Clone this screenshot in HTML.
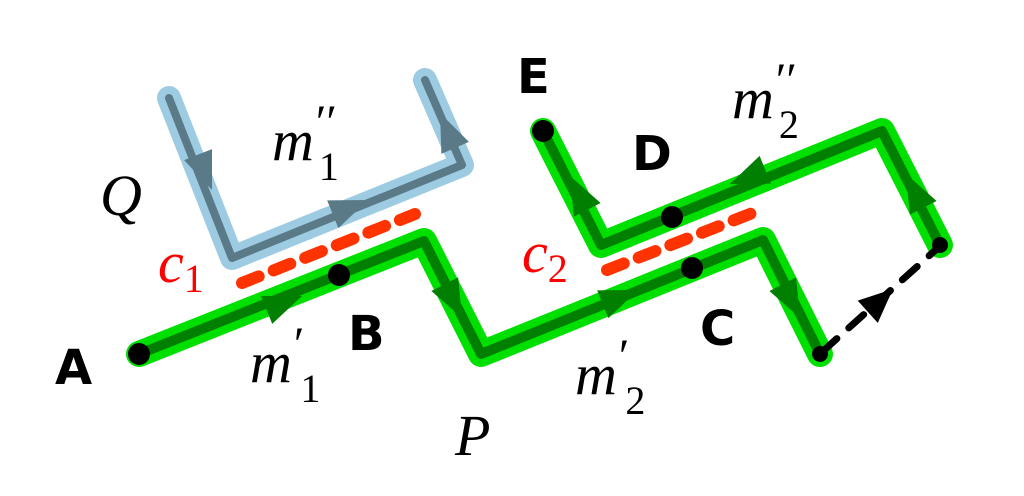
<!DOCTYPE html>
<html><head><style>body{margin:0;background:#fff}svg{display:block}
.b{font-family:"DejaVu Sans","Liberation Sans",sans-serif;font-weight:bold;font-size:48px}
.m{font-family:"Liberation Serif","DejaVu Serif",serif;font-style:italic;font-size:58px}
.s{font-family:"Liberation Serif","DejaVu Serif",serif;font-size:40px;font-style:normal}
.p{font-family:"Liberation Serif","DejaVu Serif",serif;font-style:normal;font-size:48px}
</style></head><body>
<svg width="1024" height="496" viewBox="0 0 1024 496" xmlns="http://www.w3.org/2000/svg">
<g fill="none" stroke-linecap="round" stroke-linejoin="round">
<polyline points="169,98 232,258 462,165 425,80" stroke="#9ccbe2" stroke-width="24"/>
<polyline points="169,98 232,258 462,165 425,80" stroke="#5a7a88" stroke-width="8"/>
<polyline points="139,354 424,241 481,354 763,240 820,354" stroke="#00e000" stroke-width="26"/>
<polyline points="543,131 601,245 882,131 940,245" stroke="#00e000" stroke-width="26"/>
<polyline points="139,354 424,241 481,354 763,240 820,354" stroke="#007f00" stroke-width="10"/>
<polyline points="543,131 601,245 882,131 940,245" stroke="#007f00" stroke-width="10"/>
<line x1="242" y1="283" x2="415" y2="214" stroke="#ff3300" stroke-width="12" stroke-dasharray="18,16"/>
<line x1="607" y1="270" x2="755" y2="212" stroke="#ff3300" stroke-width="12" stroke-dasharray="18,16"/>
<line x1="822" y1="352" x2="940" y2="246" stroke="#000" stroke-width="7" stroke-dasharray="20,16"/>
</g>
<g fill="#5a7a88">
<polygon transform="translate(212,190) rotate(68.5)" points="0,0 -38,-15 -38,15"/>
<polygon transform="translate(368,200) rotate(-22)" points="0,0 -38,-15 -38,15"/>
<polygon transform="translate(440,113) rotate(-113.5)" points="0,0 -38,-15 -38,15"/>
</g>
<g fill="#007f00">
<polygon transform="translate(302,296) rotate(-21.6)" points="0,0 -38,-15 -38,15"/>
<polygon transform="translate(462,318) rotate(63)" points="0,0 -38,-15 -38,15"/>
<polygon transform="translate(638,290) rotate(-22)" points="0,0 -38,-15 -38,15"/>
<polygon transform="translate(800,318) rotate(63)" points="0,0 -38,-15 -38,15"/>
<polygon transform="translate(570,176) rotate(-117)" points="0,0 -38,-15 -38,15"/>
<polygon transform="translate(730,184) rotate(158)" points="0,0 -38,-15 -38,15"/>
<polygon transform="translate(906,174) rotate(-117)" points="0,0 -38,-15 -38,15"/>
</g>
<polygon transform="translate(893,289) rotate(-42)" points="0,0 -34,-15 -34,15" fill="#000"/>
<g fill="#000">
<circle cx="139" cy="354" r="11"/><circle cx="339" cy="275" r="11"/>
<circle cx="672" cy="217" r="11"/><circle cx="692" cy="268" r="11"/>
<circle cx="543" cy="131" r="11"/><circle cx="820" cy="354" r="8"/><circle cx="940" cy="245" r="8"/>
</g>
<text class="b" x="55" y="384">A</text>
<text class="b" x="348" y="350">B</text>
<text class="b" x="700" y="345">C</text>
<text class="b" x="632" y="170">D</text>
<text class="b" x="517" y="93">E</text>
<text class="m" x="100" y="215">Q</text>
<text class="m" x="272" y="160">m<tspan class="p" dx="2" dy="-22">′′</tspan><tspan class="s" dx="-18" dy="42">1</tspan></text>
<text class="m" x="732" y="118">m<tspan class="p" dx="2" dy="-22">′′</tspan><tspan class="s" dx="-18" dy="42">2</tspan></text>
<text class="m" x="250" y="382">m<tspan class="p" dx="2" dy="-22">′</tspan><tspan class="s" dx="-4" dy="42">1</tspan></text>
<text class="m" x="575" y="394">m<tspan class="p" dx="2" dy="-22">′</tspan><tspan class="s" dx="-4" dy="42">2</tspan></text>
<text class="m" x="455" y="455">P</text>
<text class="m" x="158" y="282" fill="#f00">c<tspan class="s" dy="10">1</tspan></text>
<text class="m" x="522" y="272" fill="#f00">c<tspan class="s" dy="10">2</tspan></text>
</svg>
</body></html>
